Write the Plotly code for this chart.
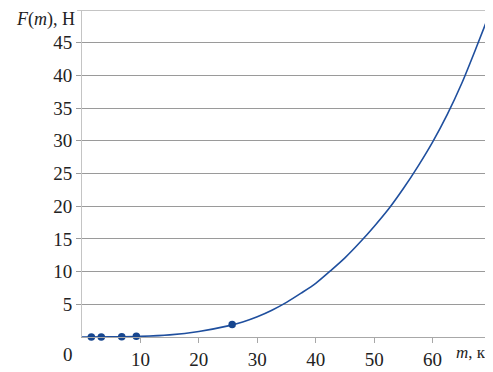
import plotly.graph_objects as go

# Curve F(m)
curve_m = [0, 5, 10, 15, 20, 25, 27.5, 30, 32.5, 35, 37.5, 40, 42.5, 45, 47.5, 50,
           52.5, 55, 57.5, 60, 62.5, 65, 67.5, 70]
curve_F = [0, 0.02, 0.1, 0.33, 0.85, 1.7, 2.3, 3.1, 4.1, 5.3, 6.7, 8.2, 10.1, 12.1, 14.4, 16.9,
           19.6, 22.7, 26.1, 29.8, 34.0, 38.8, 44.3, 50]

# Measured points
point_m = [1.6, 3.3, 6.8, 9.3, 25.7]
point_F = [0.0, 0.0, 0.05, 0.1, 1.9]

x_ticks = [10, 20, 30, 40, 50, 60]
y_ticks = [5, 10, 15, 20, 25, 30, 35, 40, 45]
y_max = 50

FONT = "Liberation Serif"
FS = 19
TXT = "#222222"
BLUE = "#1f4f9e"

fig = go.Figure()
fig.add_trace(go.Scatter(x=curve_m, y=curve_F, mode="lines",
                         line=dict(color=BLUE, width=1.6, shape="spline", smoothing=0.8),
                         cliponaxis=False, hoverinfo="skip"))
fig.add_trace(go.Scatter(x=point_m, y=point_F, mode="markers",
                         marker=dict(color="#17468f", size=7.5, line=dict(width=0)),
                         cliponaxis=False))

tf = dict(family=FONT, size=FS, color=TXT)

# top gridline with its outside tick
fig.add_shape(type="line", xref="paper", yref="y", x0=-0.012, x1=1, y0=y_max, y1=y_max,
              line=dict(color="#8a8a8a", width=1.2), layer="below")

fig.update_layout(
    width=485, height=364,
    margin=dict(l=74, r=2, t=2, b=23),
    paper_bgcolor="white", plot_bgcolor="white",
    showlegend=False,
    font=tf,
    xaxis=dict(range=[0, 70], tickvals=x_ticks + [70], ticktext=[str(v) for v in x_ticks] + [""],
               showgrid=False, zeroline=False, showline=True, linecolor="#a8a8a8", linewidth=1,
               ticks="outside", ticklen=5, tickcolor="#a8a8a8", fixedrange=True, tickfont=tf),
    yaxis=dict(range=[0, y_max], tickvals=y_ticks, ticktext=[str(v) for v in y_ticks],
               showgrid=True, gridcolor="#9a9a9a", gridwidth=1.2, zeroline=False,
               showline=True, linecolor="#c4c4c4", linewidth=1,
               ticks="outside", ticklen=5, tickcolor="#9a9a9a", fixedrange=True, tickfont=tf),
    annotations=[
        dict(text="<i>F</i>(<i>m</i>), Н", xref="paper", yref="paper", x=0, y=1.0,
             xanchor="right", yanchor="top", xshift=-6, yshift=2, showarrow=False,
             borderpad=0, font=dict(family=FONT, size=18, color=TXT)),
        dict(text="0", xref="x", yref="paper", x=0, y=0, xanchor="center", yanchor="top",
             xshift=-14, yshift=-5, showarrow=False, font=tf),
        dict(text="<i>m</i>, кг", xref="paper", yref="paper", x=1.0, y=0, xanchor="right", yanchor="top",
             xshift=2, yshift=-5, showarrow=False, borderpad=0,
             font=dict(family=FONT, size=17, color=TXT)),
    ],
)

fig.write_html("out.html")
